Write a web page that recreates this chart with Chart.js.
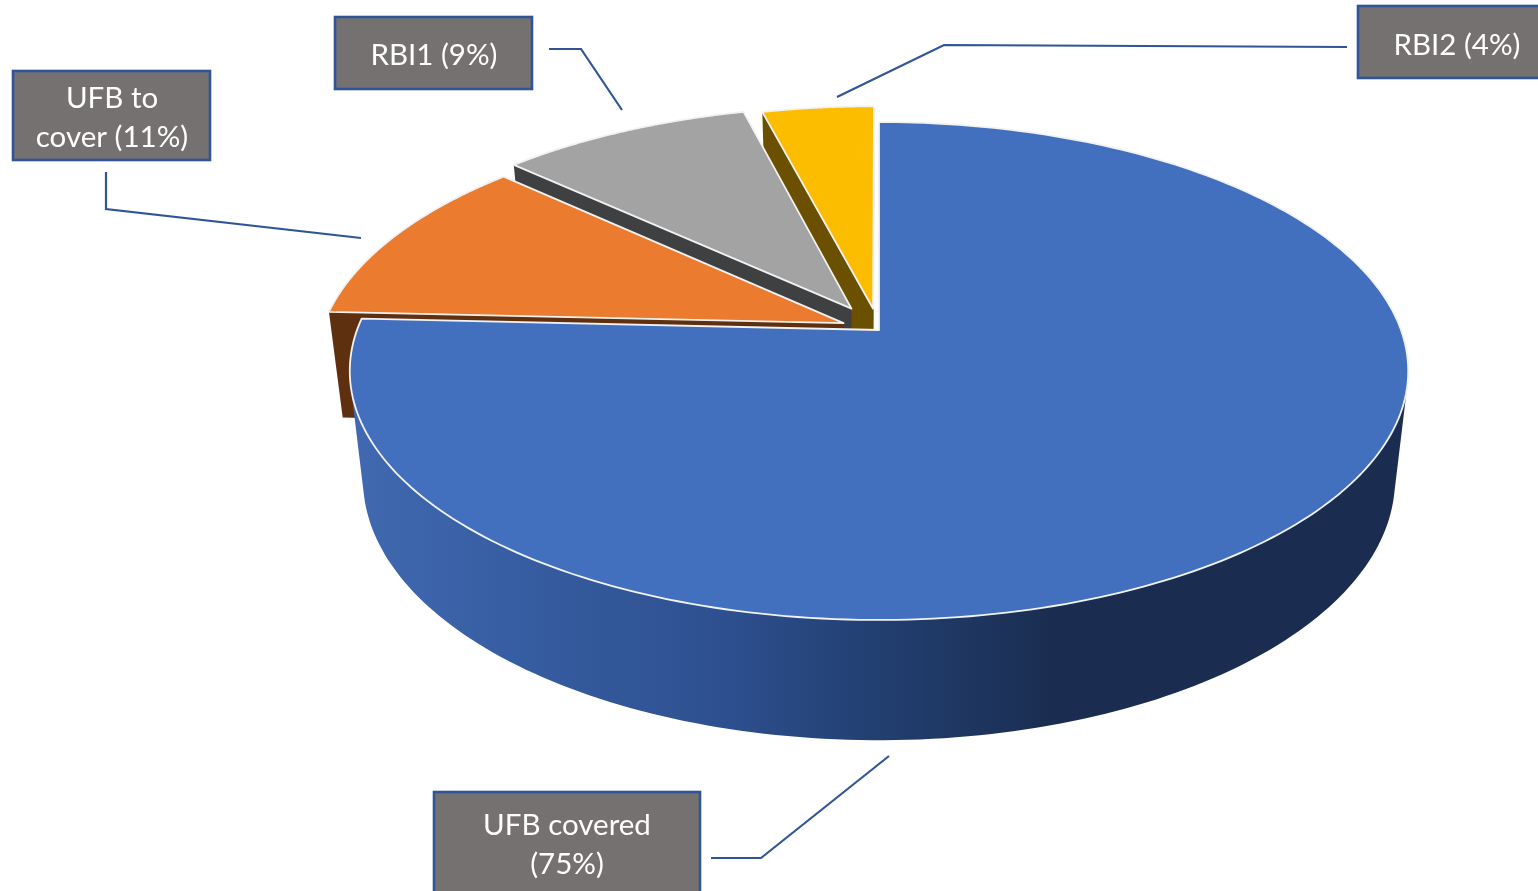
<!DOCTYPE html>
<html>
<head>
<meta charset="utf-8">
<script src="https://cdn.jsdelivr.net/npm/chart.js@4"></script>
<style>html,body{margin:0;padding:0;background:#fff;overflow:hidden}canvas{display:block}</style>
</head>
<body>
<canvas id="c" width="1538" height="891"></canvas>
<script>
// ---- data ----
const categories = ["UFB covered", "UFB to cover", "RBI1", "RBI2"];
const values = [75, 11, 9, 4];
const labelLines = [["UFB covered", "(75%)"], ["UFB to", "cover (11%)"], ["RBI1 (9%)"], ["RBI2 (4%)"]];

// ---- styling ----
const topColors = ["#4270bf", "#ea7b2f", "#a3a3a3", "#fcbc00"];
const wallColors = [null, "#5f3010", "#3e4041", "#6b5000"];
const explode = [0, 0.078, 0.11, 0.095];
const view = {a: 522, b: 242.2, p: 0.1647, shrink: 0.975, drop: 106.5};
const boxes = [
  {x: 434, y: 792, w: 266, h: 104, tx: 567, ty: [825, 864], line: [[711,858],[761,858],[889,756]]},
  {x: 13, y: 71, w: 197, h: 89, tx: 112, ty: [98, 137], line: [[106,172],[106,209],[361,238]]},
  {x: 335, y: 17, w: 197, h: 72, tx: 434, ty: [55], line: [[549,49],[581,49],[622,110]]},
  {x: 1358, y: 6, w: 190, h: 72, tx: 1457, ty: [45], line: [[1347,47],[944,45],[837,97]]}
];

const pie3d = {
  id: 'pie3d',
  beforeDatasetsDraw(chart) {
    const ctx = chart.ctx, arcs = chart.getDatasetMeta(0).data;
    const proj = (el, u, v, low) => {
      const s = low ? view.shrink : 1, w = 1 - view.p * v;
      return [el.x + s * view.a * u / w, el.y + (s * view.b * v + (low ? view.drop : 0)) / w];
    };
    const trace = pts => pts.forEach((q, i) => i ? ctx.lineTo(q[0], q[1]) : ctx.moveTo(q[0], q[1]));
    // adds a facet to the current path, always wound the same way, so that
    // facets merge into one seamless filled shape
    const facet = pts => {
      let area = 0;
      pts.forEach((q, i) => { const r = pts[(i + 1) % pts.length]; area += q[0] * r[1] - r[0] * q[1]; });
      trace(area < 0 ? pts.slice().reverse() : pts);
      ctx.closePath();
    };
    const grad = ctx.createLinearGradient(355, 0, 1400, 0);
    [[0, "#4069b1"], [0.2, "#345a9d"], [0.35, "#2e5090"], [0.5, "#223f71"], [0.67, "#1a2d50"], [1, "#1a2d50"]]
      .forEach(g => grad.addColorStop(g[0], g[1]));

    for (let i = arcs.length - 1; i >= 0; i--) {
      const el = arcs[i], R = el.outerRadius;
      const mid = (el.startAngle + el.endAngle) / 2;
      const ox = Math.cos(mid) * el.options.offset / R, oy = Math.sin(mid) * el.options.offset / R;
      const top = [], low = [], n = 240;
      for (let k = 0; k <= n; k++) {
        const t = el.startAngle + (el.endAngle - el.startAngle) * k / n;
        top.push(proj(el, ox + Math.cos(t), oy + Math.sin(t), false));
        low.push(proj(el, ox + Math.cos(t), oy + Math.sin(t), true));
      }
      const apexTop = proj(el, ox, oy, false), apexLow = proj(el, ox, oy, true);
      ctx.fillStyle = wallColors[i] || grad;
      ctx.lineJoin = "round";
      // outer wall and, for the exploded slices, the radial faces
      ctx.beginPath();
      for (let k = 0; k < n; k++) facet([top[k], top[k + 1], low[k + 1], low[k]]);
      if (i > 0) {
        facet([apexTop, top[0], low[0], apexLow]);
        facet([apexTop, top[n], low[n], apexLow]);
      }
      ctx.fill();
      // top surface
      ctx.beginPath(); trace([apexTop].concat(top)); ctx.closePath();
      ctx.fillStyle = el.options.backgroundColor; ctx.fill();
      ctx.lineWidth = 1.8; ctx.strokeStyle = "#f2f2f2"; ctx.stroke();
    }
    return false;
  },
  afterDraw(chart) {
    const ctx = chart.ctx;
    boxes.forEach((b, i) => {
      ctx.strokeStyle = "#2f5597"; ctx.lineWidth = 2.2; ctx.lineJoin = "miter";
      ctx.beginPath(); b.line.forEach((q, k) => k ? ctx.lineTo(q[0], q[1]) : ctx.moveTo(q[0], q[1])); ctx.stroke();
      ctx.lineWidth = 2.6;
      ctx.fillStyle = "#767171";
      ctx.fillRect(b.x, b.y, b.w, b.h); ctx.strokeRect(b.x, b.y, b.w, b.h);
      ctx.fillStyle = "#ffffff"; ctx.font = '29.5px Lato, "Open Sans", sans-serif';
      ctx.textAlign = "center"; ctx.textBaseline = "middle";
      labelLines[i].forEach((s, k) => ctx.fillText(s, b.tx, b.ty[k]));
    });
  }
};

new Chart(document.getElementById('c'), {
  type: 'pie',
  data: {
    labels: categories,
    datasets: [{ data: values, backgroundColor: topColors, borderWidth: 0, offset: explode.map(d => d * 270) }]
  },
  options: {
    responsive: false, animation: false,
    layout: { padding: { left: 579, right: 359, top: 30, bottom: 261 } },
    plugins: { legend: { display: false }, tooltip: { enabled: false } }
  },
  plugins: [pie3d]
});
</script>
</body>
</html>
